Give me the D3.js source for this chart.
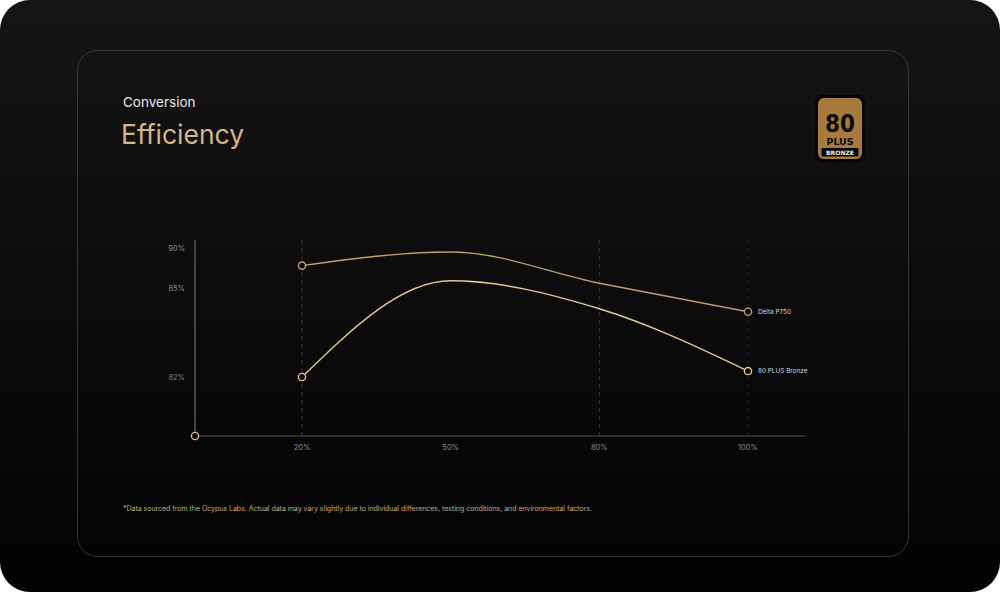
<!DOCTYPE html>
<html>
<head>
<meta charset="utf-8">
<script src="https://cdn.jsdelivr.net/npm/d3@7"></script>
<style>
  html, body { margin: 0; padding: 0; background: #ffffff; }
  svg { display: block; }
</style>
</head>
<body>
<script>
// Chart data
const loads = ["20%", "50%", "80%", "100%"];
const deltaP750 = [87.8, 89.5, 85.6, 84.2];
const bronze80 = [82, 85.9, 84.3, 82.2];
const seriesNames = ["Delta P750", "80 PLUS Bronze"];
const yTicks = [82, 85, 90];
const gridLoads = ["20%", "80%", "100%"];
const footnote = "*Data sourced from the Ocypus Labs. Actual data may vary slightly due to individual differences, testing conditions, and environmental factors.";

const W = 1000, H = 592;

const svg = d3.select("body").append("svg")
  .attr("width", W)
  .attr("height", H);

const defs = svg.append("defs");

// Background gradient for the outer panel
const bg = defs.append("linearGradient")
  .attr("id", "bg")
  .attr("x1", 0).attr("y1", 0).attr("x2", 0).attr("y2", 1);
bg.append("stop").attr("offset", "0%").attr("stop-color", "#151515");
bg.append("stop").attr("offset", "100%").attr("stop-color", "#020202");

svg.append("rect")
  .attr("width", W).attr("height", H)
  .attr("rx", 30)
  .attr("fill", "url(#bg)");

// Inner card
svg.append("rect")
  .attr("x", 77.5).attr("y", 50.5)
  .attr("width", 831).attr("height", 506)
  .attr("rx", 20)
  .attr("fill", "none")
  .attr("stroke", "#363636")
  .attr("stroke-width", 1);

// Titles
svg.append("text")
  .attr("x", 123).attr("y", 107)
  .attr("font-family", "Inter, 'Open Sans', sans-serif")
  .attr("font-size", 13.5)
  .attr("fill", "#e8e8e8")
  .text("Conversion");

svg.append("text")
  .attr("x", 121).attr("y", 144)
  .attr("font-family", "Inter, 'Open Sans', sans-serif")
  .attr("font-size", 26.5)
  .attr("fill", "#d6b686")
  .text("Efficiency");

// 80 PLUS Bronze badge
const badge = svg.append("g").attr("transform", "translate(815,95)");
badge.append("rect").attr("width", 50).attr("height", 67).attr("rx", 7).attr("fill", "#050505");
badge.append("rect").attr("x", 3).attr("y", 3).attr("width", 44).attr("height", 61).attr("rx", 6).attr("fill", "#a87a3b");
badge.append("rect").attr("x", 6.5).attr("y", 53).attr("width", 37).attr("height", 8.5).attr("rx", 1).attr("fill", "#050505");
badge.append("text")
  .attr("x", 25).attr("y", 37)
  .attr("text-anchor", "middle")
  .attr("font-family", "'DejaVu Sans Condensed', 'Liberation Sans Narrow', sans-serif")
  .attr("font-weight", "bold")
  .attr("font-size", 25)
  .attr("textLength", 30)
  .attr("lengthAdjust", "spacingAndGlyphs")
  .attr("fill", "#0a0a0a")
  .text("80");
badge.append("text")
  .attr("x", 25).attr("y", 49.5)
  .attr("text-anchor", "middle")
  .attr("font-family", "'DejaVu Sans Condensed', sans-serif")
  .attr("font-weight", "bold")
  .attr("font-size", 8)
  .attr("textLength", 27)
  .attr("lengthAdjust", "spacingAndGlyphs")
  .attr("fill", "#0a0a0a")
  .text("PLUS");
badge.append("text")
  .attr("x", 25).attr("y", 59.8)
  .attr("text-anchor", "middle")
  .attr("font-family", "'DejaVu Sans Condensed', sans-serif")
  .attr("font-weight", "bold")
  .attr("font-size", 6)
  .attr("textLength", 28)
  .attr("lengthAdjust", "spacingAndGlyphs")
  .attr("fill", "#f0f0f0")
  .text("BRONZE");

// Scales
const x = d3.scalePoint().domain(loads).range([302, 748]);
const y = d3.scaleLinear()
  .domain([80, 82, 85, 90, 91])
  .range([436, 377, 288, 248, 240]);

const originX = 195, originY = 436, axisEnd = 806;

const g = svg.append("g");

// Dashed gridlines
g.selectAll(".grid")
  .data(gridLoads)
  .enter()
  .append("line")
  .attr("x1", d => x(d)).attr("x2", d => x(d))
  .attr("y1", y(91)).attr("y2", originY)
  .attr("stroke", "#383838")
  .attr("stroke-width", 1)
  .attr("stroke-dasharray", "4,4")
  .attr("opacity", d => d === "100%" ? 0.4 : 1);

// Axes
g.append("line")
  .attr("x1", originX).attr("x2", originX)
  .attr("y1", y(91)).attr("y2", originY)
  .attr("stroke", "#857e70").attr("stroke-width", 1);

g.append("line")
  .attr("x1", originX).attr("x2", axisEnd)
  .attr("y1", originY).attr("y2", originY)
  .attr("stroke", "#57534c").attr("stroke-width", 1.2);

// Tick labels
g.selectAll(".ytick")
  .data(yTicks)
  .enter()
  .append("text")
  .attr("x", 185).attr("y", d => y(d))
  .attr("dy", "0.35em")
  .attr("text-anchor", "end")
  .attr("font-family", "Inter, sans-serif")
  .attr("font-size", 7.5)
  .attr("fill", "#8c8c8c")
  .text(d => d + "%");

g.selectAll(".xtick")
  .data(loads)
  .enter()
  .append("text")
  .attr("x", d => x(d)).attr("y", 447)
  .attr("dy", "0.35em")
  .attr("text-anchor", "middle")
  .attr("font-family", "Inter, sans-serif")
  .attr("font-size", 7.5)
  .attr("fill", "#8c8c8c")
  .text(d => d);

// Lines
const series = [
  { name: seriesNames[0], values: deltaP750, color: "#bda06c" },
  { name: seriesNames[1], values: bronze80, color: "#e2c893" }
];

const line = d3.line()
  .x((d, i) => x(loads[i]))
  .y(d => y(d))
  .curve(d3.curveMonotoneX);

g.selectAll(".series")
  .data(series)
  .enter()
  .append("path")
  .attr("d", d => line(d.values))
  .attr("fill", "none")
  .attr("stroke", d => d.color)
  .attr("stroke-width", 1.4);

// End markers
const markers = [];
series.forEach(s => {
  markers.push({ cx: x(loads[0]), cy: y(s.values[0]), color: s.color });
  markers.push({ cx: x(loads[loads.length - 1]), cy: y(s.values[s.values.length - 1]), color: s.color });
});
markers.push({ cx: originX, cy: originY, color: "#d8bd88" });

g.selectAll(".marker")
  .data(markers)
  .enter()
  .append("circle")
  .attr("cx", d => d.cx).attr("cy", d => d.cy)
  .attr("r", 3.6)
  .attr("fill", "#0c0c0c")
  .attr("stroke", d => d.color)
  .attr("stroke-width", 1.4);

// Series labels
g.selectAll(".slabel")
  .data(series)
  .enter()
  .append("text")
  .attr("x", x(loads[loads.length - 1]) + 10)
  .attr("y", d => y(d.values[d.values.length - 1]))
  .attr("dy", "0.35em")
  .attr("font-family", "Inter, sans-serif")
  .attr("font-size", 6.4)
  .attr("fill", "#dcdcdc")
  .text(d => d.name);

// Footnote
svg.append("text")
  .attr("x", 123).attr("y", 509)
  .attr("dy", "0.35em")
  .attr("font-family", "Inter, sans-serif")
  .attr("font-size", 7)
  .attr("textLength", 469)
  .attr("fill", "#c4ab80")
  .text(footnote);
</script>
</body>
</html>
